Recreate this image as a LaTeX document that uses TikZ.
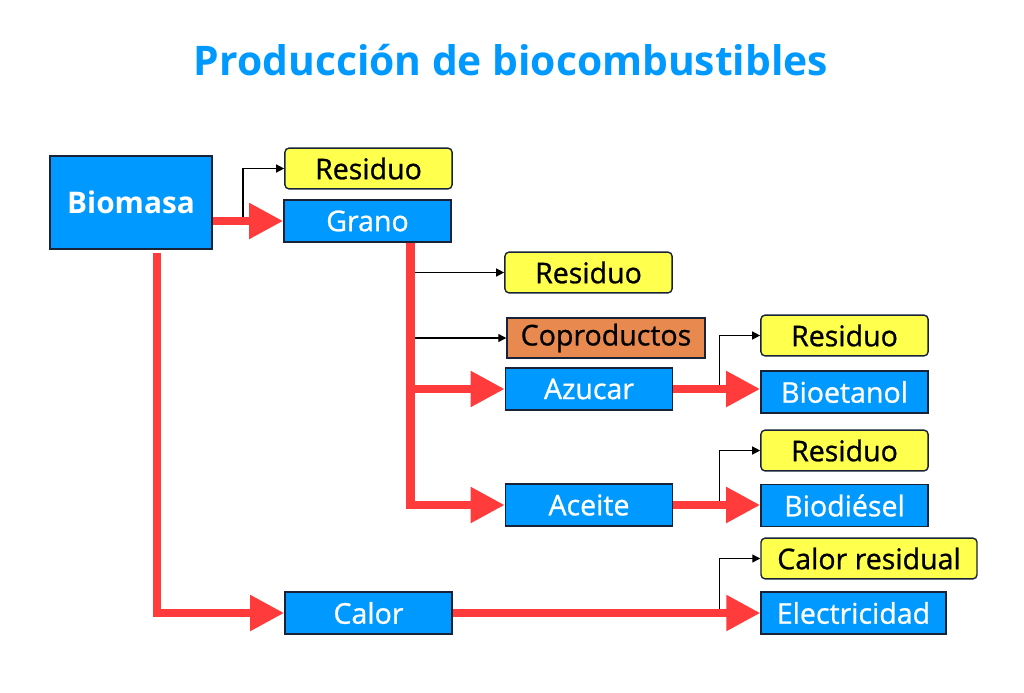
\documentclass[tikz,border=0pt]{standalone}
\usepackage{fontspec}
\setmainfont{Open Sans}
\newfontfamily\boxfont{Open Sans}[FakeBold=0.9]
\usepackage{xcolor}
\usepackage{tikz}
\usetikzlibrary{arrows.meta,positioning,calc}

\definecolor{boxblue}{RGB}{0,153,255}
\definecolor{resyellow}{RGB}{255,255,77}
\definecolor{coorange}{RGB}{232,138,80}
\definecolor{flowred}{RGB}{255,59,59}
\definecolor{edge}{RGB}{25,35,55}

\begin{document}
\begin{tikzpicture}[
    x=0.025cm, y=-0.025cm,
    base/.style={draw=edge, line width=1pt, minimum width=4.18cm, minimum height=1.05cm, inner sep=0pt, font=\boxfont\fontsize{20.3}{23}\selectfont},
    stage/.style={base, fill=boxblue, text=white},
    waste/.style={base, fill=resyellow, rounded corners=3pt, minimum height=1.02cm, text=black},
    coprod/.style={base, fill=coorange, minimum width=4.95cm, minimum height=1cm, text=black},
    redarr/.style={draw=flowred, line width=5.7pt, -{Triangle[length=0.85cm, width=0.85cm]}},
    blk/.style={draw=black, line width=0.9pt, -{Triangle[length=0.2cm, width=0.2cm]}}
]
\useasboundingbox (0,0) rectangle (1024,692);

% Title
\node[font=\fontsize{29}{34}\selectfont\bfseries, text=boxblue] (title) at (511, 60) {Producción de biocombustibles};

% Column 1
\node[stage, minimum width=4.05cm, minimum height=2.33cm, font=\fontsize{21.2}{25}\selectfont\bfseries] (biomasa) at (131, 202.5) {Biomasa};

% Column 2
\node[waste] (res1) at (368.5, 168.5) {Residuo};
\node[stage] (grano) at (367.5, 221) {Grano};
\node[stage] (calor) at (368.5, 613) {Calor};

% Column 3
\node[waste] (res2) at (588.5, 272.5) {Residuo};
\node[coprod] (copro) at (606, 338) {Coproductos};
\node[stage] (azucar) at (589, 389) {Azucar};
\node[stage] (aceite) at (589, 505) {Aceite};

% Column 4
\node[waste] (res3) at (844.5, 335.5) {Residuo};
\node[stage] (bioet) at (844.5, 392) {Bioetanol};
\node[waste] (res4) at (844.5, 450.5) {Residuo};
\node[stage] (biodi) at (844.5, 505.5) {Biodiésel};
\node[waste, minimum width=5.4cm] (calres) at (869, 558.5) {Calor residual};
\node[stage, minimum width=4.62cm] (elec) at (853.5, 613) {Electricidad};

% Branch points
\coordinate (gx) at ($(grano.south)+(43,0)$);
\coordinate (jx) at ($(bioet.west)+(-41,0)$);

% Thin branches to residues
\draw[blk] ($(grano.west -| biomasa.east)!0.43!(grano.west)$) |- (res1.west);
\draw[blk] (gx |- res2.west) -- (res2.west);
\draw[blk] (gx |- copro.west) -- (copro.west);
\draw[blk] (azucar.east -| jx) |- (res3.west);
\draw[blk] (aceite.east -| jx) |- (res4.west);
\draw[blk] (calor.east -| jx) |- (calres.west);

% Main flow
\draw[redarr] (grano.west -| biomasa.east) -- (grano.west);
\draw[redarr] ($(biomasa.south)+(26,3)$) |- (calor.west);
\draw[redarr] (gx) |- (azucar.west);
\draw[redarr] (gx) |- (aceite.west);
\draw[redarr] (azucar.east) -- (azucar.east -| bioet.west);
\draw[redarr] (aceite.east) -- (aceite.east -| biodi.west);
\draw[redarr] (calor.east) -- (calor.east -| elec.west);

\end{tikzpicture}
\end{document}
